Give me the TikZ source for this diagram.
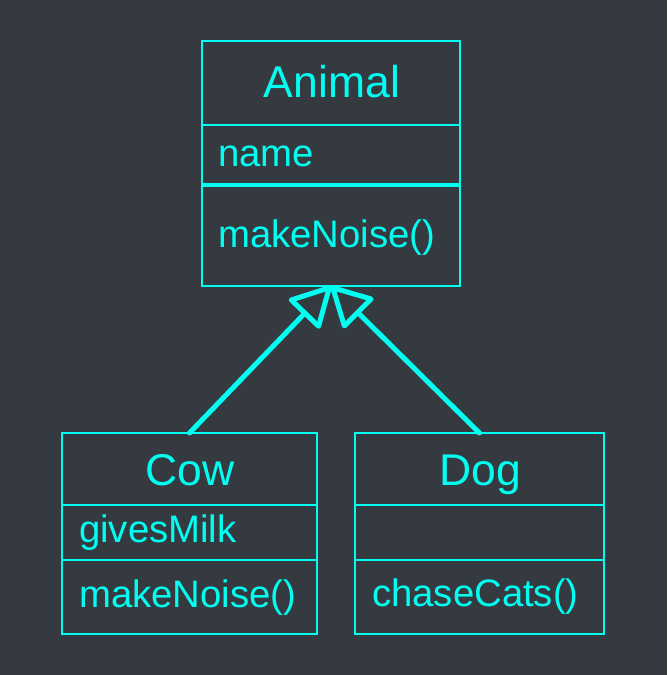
\documentclass[tikz,border=0pt]{standalone}
\usepackage{fontspec}
\setmainfont{Liberation Sans}
\usetikzlibrary{arrows.meta}
\definecolor{bg}{RGB}{53,58,65}
\definecolor{cy}{RGB}{0,255,240}
\tikzset{
  box/.style={draw=cy, line width=1.2pt, anchor=north west, inner sep=0pt, outer sep=0pt},
  title/.style={text=cy, inner sep=0pt, anchor=base, font=\fontsize{44.5}{48}\selectfont},
  member/.style={text=cy, inner sep=0pt, anchor=base west, font=\fontsize{38.3}{40}\selectfont},
  inh/.style={draw=cy, line width=5pt, line cap=round,
    -{Triangle[open, round, length=43pt, width=45pt]}}
}
\begin{document}
\begin{tikzpicture}[x=1pt,y=-1pt]
\fill[bg] (0,0) rectangle (667,675);
\useasboundingbox (0,0) rectangle (667,675);
% Animal
\node[box, minimum width=258pt, minimum height=84pt] (animalT) at (202,41) {};
\node[box, minimum width=258pt, minimum height=59pt] (animalA) at (202,125) {};
\node[box, minimum width=258pt, minimum height=100pt] (animalM) at (202,186) {};
\node[title] (animalTx) at (332,97) {Animal};
\node[member] (animalAx) at (218,166) {name};
\node[member] (animalMx) at (218,247) {makeNoise()};
% Cow
\node[box, minimum width=255pt, minimum height=72pt] (cowT) at (62,433) {};
\node[box, minimum width=255pt, minimum height=55pt] (cowA) at (62,505) {};
\node[box, minimum width=255pt, minimum height=74pt] (cowM) at (62,560) {};
\node[title] (cowTx) at (190,485) {Cow};
\node[member] (cowAx) at (79,542) {givesMilk};
\node[member] (cowMx) at (79,607) {makeNoise()};
% Dog
\node[box, minimum width=249pt, minimum height=72pt] (dogT) at (355,433) {};
\node[box, minimum width=249pt, minimum height=55pt] (dogA) at (355,505) {};
\node[box, minimum width=249pt, minimum height=74pt] (dogM) at (355,560) {};
\node[title] (dogTx) at (480,485) {Dog};
\node[member] (dogMx) at (372,606) {chaseCats()};
% inheritance
\draw[inh] (cowT.north) -- (animalM.south);
\draw[inh] (dogT.north) -- (animalM.south);
\end{tikzpicture}
\end{document}
